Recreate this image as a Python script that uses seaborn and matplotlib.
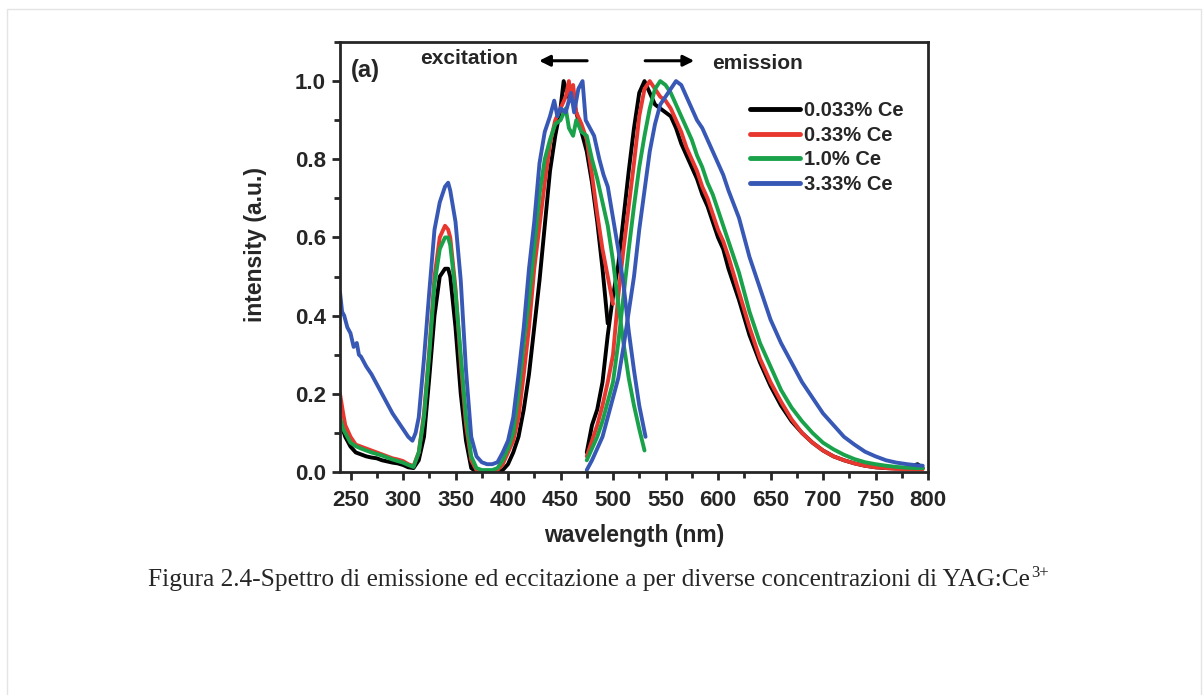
import numpy as np
import pandas as pd
import matplotlib
matplotlib.use("Agg")
import matplotlib.pyplot as plt
from matplotlib.patches import Rectangle
from matplotlib.ticker import MultipleLocator
import seaborn as sns

# ---------------- data ----------------
samples = ["0.033% Ce", "0.33% Ce", "1.0% Ce", "3.33% Ce"]
colors = ["#000000", "#e8372f", "#1aa24a", "#3858b6"]

# excitation spectra (monitored emission), wavelength in nm
ex_nm_black = [240, 245, 250, 255, 260, 265, 270, 275, 280, 285, 290, 295, 300, 305, 310,
               315, 320, 325, 330, 335, 340, 343, 345, 350, 355, 360, 365, 370, 380, 390,
               395, 400, 405, 410, 415, 420, 425, 430, 435, 440, 445, 450, 453, 457, 460,
               465, 470, 475, 480, 485, 490, 495]
ex_int_black = [0.13, 0.09, 0.065, 0.05, 0.045, 0.04, 0.037, 0.035, 0.03, 0.027, 0.024, 0.022,
                0.018, 0.012, 0.01, 0.03, 0.09, 0.24, 0.40, 0.50, 0.52, 0.52, 0.50, 0.37, 0.20,
                0.08, 0.01, 0.0, 0.0, 0.0, 0.005, 0.02, 0.05, 0.09, 0.16, 0.25, 0.37, 0.49,
                0.63, 0.77, 0.86, 0.93, 1.00, 0.96, 0.97, 0.92, 0.87, 0.82, 0.74, 0.64, 0.52,
                0.38]

ex_nm_red = [240, 243, 245, 250, 255, 260, 265, 270, 275, 280, 285, 290, 295, 300, 305, 310,
             315, 320, 325, 330, 335, 340, 343, 345, 350, 355, 360, 365, 370, 380, 390, 395,
             400, 405, 410, 415, 420, 425, 430, 435, 440, 445, 450, 455, 458, 460, 462, 465,
             470, 475, 480, 485, 490, 495, 500]
ex_int_red = [0.20, 0.15, 0.12, 0.09, 0.07, 0.065, 0.06, 0.055, 0.05, 0.045, 0.04, 0.035,
              0.032, 0.028, 0.02, 0.015, 0.05, 0.15, 0.31, 0.50, 0.60, 0.63, 0.62, 0.60, 0.47,
              0.28, 0.12, 0.03, 0.005, 0.0, 0.005, 0.02, 0.05, 0.08, 0.14, 0.25, 0.37, 0.52,
              0.63, 0.74, 0.84, 0.90, 0.93, 0.96, 1.00, 0.95, 0.99, 0.92, 0.89, 0.85, 0.76,
              0.66, 0.57, 0.50, 0.43]

ex_nm_green = [240, 243, 245, 250, 255, 260, 265, 270, 275, 280, 285, 290, 295, 300, 305,
               310, 315, 320, 325, 330, 335, 340, 343, 345, 350, 355, 360, 365, 370, 375, 380,
               385, 390, 395, 400, 405, 410, 415, 420, 425, 430, 435, 440, 445, 450, 455, 458,
               462, 465, 470, 475, 480, 485, 490, 495, 500, 505, 510, 515, 520, 525, 530]
ex_int_green = [0.14, 0.11, 0.10, 0.075, 0.066, 0.06, 0.055, 0.05, 0.046, 0.042, 0.037, 0.032,
                0.028, 0.024, 0.018, 0.013, 0.05, 0.14, 0.30, 0.48, 0.57, 0.60, 0.60, 0.58,
                0.46, 0.30, 0.14, 0.04, 0.01, 0.005, 0.005, 0.005, 0.01, 0.03, 0.06, 0.10,
                0.20, 0.33, 0.44, 0.57, 0.71, 0.80, 0.85, 0.89, 0.90, 0.93, 0.88, 0.86, 0.90,
                0.87, 0.86, 0.80, 0.75, 0.69, 0.63, 0.54, 0.43, 0.33, 0.24, 0.17, 0.11, 0.055]

ex_nm_blue = [240, 242, 244, 247, 250, 253, 256, 258, 260, 265, 270, 275, 280, 285, 290, 295,
              300, 305, 309, 312, 315, 320, 325, 330, 335, 340, 343, 345, 350, 355, 360, 365,
              370, 375, 380, 385, 390, 395, 400, 405, 410, 415, 420, 425, 430, 435, 440, 444,
              447, 450, 455, 460, 463, 467, 471, 474, 478, 482, 487, 491, 495, 500, 505, 510,
              515, 520, 525, 531]
ex_int_blue = [0.46, 0.41, 0.40, 0.37, 0.355, 0.32, 0.33, 0.30, 0.295, 0.27, 0.25, 0.225, 0.20,
               0.175, 0.15, 0.13, 0.11, 0.09, 0.08, 0.10, 0.14, 0.29, 0.46, 0.62, 0.69, 0.73,
               0.74, 0.72, 0.64, 0.49, 0.26, 0.09, 0.04, 0.025, 0.02, 0.02, 0.025, 0.05, 0.08,
               0.14, 0.25, 0.37, 0.52, 0.64, 0.79, 0.87, 0.91, 0.95, 0.91, 0.93, 0.92, 0.97,
               0.92, 0.98, 1.00, 0.90, 0.88, 0.86, 0.80, 0.76, 0.73, 0.65, 0.57, 0.48, 0.36,
               0.26, 0.17, 0.09]

# emission spectra (450 nm excitation), wavelength in nm
em_nm = [475, 480, 485, 490, 495, 500, 505, 510, 515, 520, 525, 530, 535, 540, 545, 550,
         555, 560, 565, 570, 575, 580, 585, 590, 595, 600, 605, 610, 620, 630, 640, 650,
         660, 670, 680, 690, 700, 710, 720, 730, 740, 750, 760, 770, 780, 790, 795]
em_int_black = [0.05, 0.12, 0.16, 0.23, 0.35, 0.45, 0.53, 0.65, 0.77, 0.88, 0.97, 1.00, 0.97,
                0.94, 0.93, 0.92, 0.91, 0.88, 0.84, 0.81, 0.78, 0.75, 0.71, 0.68, 0.64, 0.60,
                0.57, 0.52, 0.44, 0.35, 0.28, 0.22, 0.17, 0.13, 0.10, 0.075, 0.055, 0.04, 0.03,
                0.022, 0.016, 0.012, 0.01, 0.009, 0.01, 0.02, 0.01]
em_int_red = [0.04, 0.08, 0.12, 0.17, 0.23, 0.30, 0.45, 0.57, 0.68, 0.79, 0.91, 0.98, 1.00,
              0.98, 0.96, 0.95, 0.93, 0.90, 0.87, 0.83, 0.80, 0.77, 0.73, 0.70, 0.66, 0.62,
              0.59, 0.55, 0.46, 0.37, 0.29, 0.23, 0.18, 0.135, 0.10, 0.075, 0.055, 0.04, 0.03,
              0.022, 0.016, 0.012, 0.01, 0.008, 0.007, 0.007, 0.007]
em_int_green = [0.03, 0.06, 0.09, 0.13, 0.18, 0.23, 0.33, 0.45, 0.57, 0.68, 0.78, 0.86, 0.93,
                0.98, 1.00, 0.99, 0.97, 0.94, 0.91, 0.88, 0.85, 0.81, 0.78, 0.74, 0.71, 0.67,
                0.63, 0.59, 0.51, 0.41, 0.33, 0.27, 0.21, 0.165, 0.13, 0.10, 0.075, 0.058,
                0.044, 0.033, 0.025, 0.02, 0.016, 0.013, 0.011, 0.01, 0.01]
em_int_blue = [0.005, 0.03, 0.06, 0.09, 0.14, 0.19, 0.24, 0.32, 0.41, 0.50, 0.62, 0.72, 0.82,
               0.89, 0.94, 0.96, 0.98, 1.00, 0.99, 0.96, 0.93, 0.90, 0.88, 0.85, 0.82, 0.79,
               0.76, 0.72, 0.65, 0.55, 0.47, 0.39, 0.33, 0.28, 0.23, 0.19, 0.15, 0.12, 0.09,
               0.07, 0.052, 0.04, 0.03, 0.024, 0.02, 0.017, 0.016]

x_ticks = [250, 300, 350, 400, 450, 500, 550, 600, 650, 700, 750, 800]
y_ticks = [0.0, 0.2, 0.4, 0.6, 0.8, 1.0]

caption_main = "Figura 2.4-Spettro di emissione ed eccitazione a per diverse concentrazioni di YAG:Ce"
caption_sup = "3+"

# ---------------- tidy table ----------------
ex_sets = [(ex_nm_black, ex_int_black), (ex_nm_red, ex_int_red),
           (ex_nm_green, ex_int_green), (ex_nm_blue, ex_int_blue)]
em_sets = [em_int_black, em_int_red, em_int_green, em_int_blue]

frames = []
for s, (xn, yi), ye in zip(samples, ex_sets, em_sets):
    frames.append(pd.DataFrame({"wavelength": xn, "intensity": yi, "sample": s, "kind": "excitation"}))
    frames.append(pd.DataFrame({"wavelength": em_nm, "intensity": ye, "sample": s, "kind": "emission"}))
df = pd.concat(frames, ignore_index=True)

# ---------------- figure ----------------
sns.set_style("ticks")
plt.rcParams["font.family"] = ["Liberation Sans", "DejaVu Sans"]
plt.rcParams["font.weight"] = "bold"

W, H = 1203, 695
fig = plt.figure(figsize=(W / 100, H / 100), dpi=100)
fig.patch.set_facecolor("white")

# thin page frame around the figure
fig.patches.append(Rectangle((7 / W, -0.02), 1194 / W, 1.02 - 9 / H,
                             transform=fig.transFigure, fill=False,
                             edgecolor="#e4e4e4", lw=1.0))

ax = fig.add_axes([340 / W, 1 - 472 / H, 588 / W, 430 / H])

for s, c in zip(samples, colors):
    for kind in ["excitation", "emission"]:
        sub = df[(df["sample"] == s) & (df["kind"] == kind)]
        sns.lineplot(data=sub, x="wavelength", y="intensity", ax=ax, color=c,
                     lw=2.8, label=s if kind == "emission" else None,
                     legend=False, estimator=None)

ax.set_xlim(240, 800)
ax.set_ylim(0, 1.1)
ax.set_xticks(x_ticks)
ax.set_yticks(y_ticks)
ax.set_xticklabels([str(v) for v in x_ticks])
ax.set_yticklabels([f"{v:.1f}" for v in y_ticks])
ax.xaxis.set_minor_locator(MultipleLocator(25))
ax.yaxis.set_minor_locator(MultipleLocator(0.1))
ax.tick_params(which="major", direction="out", length=6, width=2,
               labelsize=16, top=False, right=False)
ax.tick_params(axis="x", which="major", pad=7)
ax.tick_params(axis="y", which="major", pad=4)
ax.tick_params(which="minor", direction="out", length=4, width=2, top=False, right=False)
for lab in ax.get_xticklabels() + ax.get_yticklabels():
    lab.set_fontweight("bold")
for sp in ax.spines.values():
    sp.set_visible(True)
    sp.set_linewidth(2.0)

ax.set_xlabel("wavelength (nm)", fontsize=16.5, fontweight="bold", va="center")
ax.set_ylabel("intensity (a.u.)", fontsize=16.5, fontweight="bold", va="center")
ax.xaxis.set_label_coords(0.5, -0.147)
ax.yaxis.set_label_coords(-0.143, 0.53)

# panel annotations
ax.text(250.7, 1.028, "(a)", fontsize=17, fontweight="bold", va="center", ha="left")
ax.text(316, 1.057, "excitation", fontsize=15, fontweight="bold", va="center", ha="left")
ax.annotate("", xy=(427, 1.052), xytext=(478, 1.052),
            arrowprops=dict(arrowstyle="-|>", lw=2.2, color="black", mutation_scale=16))
ax.annotate("", xy=(580, 1.052), xytext=(528, 1.052),
            arrowprops=dict(arrowstyle="-|>", lw=2.2, color="black", mutation_scale=16))
ax.text(594, 1.045, "emission", fontsize=15, fontweight="bold", va="center", ha="left")

leg = ax.legend(loc="upper left", bbox_to_anchor=(0.697, 0.863), frameon=False,
                fontsize=14.5, handlelength=2.5, handletextpad=0.2, labelspacing=0.28,
                borderpad=0, borderaxespad=0)
for t in leg.get_texts():
    t.set_fontweight("bold")
for ln in leg.get_lines():
    ln.set_linewidth(3.5)

# caption with superscript charge
cap = fig.text(148 / W, 1 - 580 / H, caption_main, ha="left", va="center",
               fontsize=18.3, fontfamily="Liberation Serif", fontweight="normal")
renderer = fig.canvas.get_renderer()
bb = cap.get_window_extent(renderer=renderer)
fig.text((bb.x1 + 1) / W, 1 - 573 / H, caption_sup, ha="left", va="center",
         fontsize=12, fontfamily="Liberation Serif", fontweight="normal")

fig.savefig("out.png", dpi=100)
